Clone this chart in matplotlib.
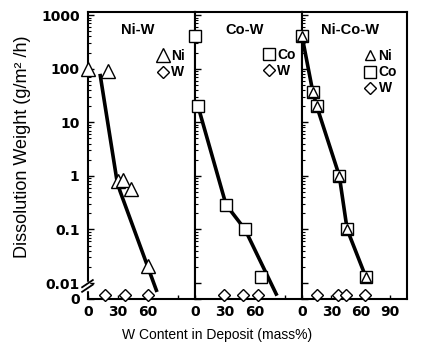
import matplotlib
matplotlib.use("Agg")
import matplotlib.pyplot as plt
from matplotlib.ticker import FixedLocator, NullFormatter
from matplotlib.lines import Line2D

# values (x: W content mass%, y: g/m2/h)
ZERO = 0.006          # where the "0" points sit on the broken log axis

niw_ni_x = [0, 20, 30, 35, 43, 60]
niw_ni_y = [100, 92, 0.8, 0.85, 0.57, 0.021]
niw_w_x = [17, 37, 60]
niw_line_x = [12, 29, 32, 69]
niw_line_y = [80, 0.8, 0.52, 0.0068]

cow_co_x = [0, 3, 31, 50, 66]
cow_co_y = [406, 20, 0.29, 0.1, 0.013]
cow_w_x = [29, 48, 63]
cow_line_x = [3, 31, 50, 82]
cow_line_y = [20, 0.29, 0.1, 0.0058]

nicow_x = [0, 11, 15, 38, 46, 65]
nicow_ni_y = [406, 37, 20, 1.0, 0.1, 0.013]
nicow_co_y = [406, 37, 20, 1.0, 0.1, 0.013]
nicow_w_x = [15, 37, 45, 64]
nicow_line_x = [0, 11, 15, 38, 46, 65]
nicow_line_y = [406, 37, 20, 1.0, 0.1, 0.013]

titles = ["Ni-W", "Co-W", "Ni-Co-W"]
ytick_vals = [0.00503, 0.01, 0.1, 1, 10, 100, 1000]
ytick_labels = ["0", "0.01", "0.1", "1", "10", "100", "1000"]

plt.rcParams['font.family'] = ['Liberation Sans', 'DejaVu Sans']

fig = plt.figure(figsize=(4.22, 3.49), dpi=100)
W, H = 422, 349
bot, top = 299, 12
edges = [88, 195, 302, 407]
axes = []
for i in range(3):
    ax = fig.add_axes([edges[i] / W, 1 - bot / H, (edges[i + 1] - edges[i]) / W, (bot - top) / H])
    axes.append(ax)

tick_font = dict(family='DejaVu Sans', weight='bold', size=10)
mk = dict(mfc='white', mec='black', mew=1.0, ls='none', clip_on=False, zorder=5)
line_kw = dict(color='black', lw=2.6, zorder=3, solid_capstyle='butt')

# Ni-W
ax = axes[0]
ax.plot(niw_line_x, niw_line_y, **line_kw)
ax.plot(niw_ni_x, niw_ni_y, marker='^', ms=9.5, label='Ni', **mk)
ax.plot(niw_w_x, [ZERO] * len(niw_w_x), marker='D', ms=6.2, label='W', **mk)

# Co-W
ax = axes[1]
ax.plot(cow_line_x, cow_line_y, **line_kw)
ax.plot(cow_co_x, cow_co_y, marker='s', ms=8.8, label='Co', **mk)
ax.plot(cow_w_x, [ZERO] * len(cow_w_x), marker='D', ms=6.2, label='W', **mk)

# Ni-Co-W
ax = axes[2]
ax.plot(nicow_line_x, nicow_line_y, **line_kw)
ax.plot(nicow_x, nicow_co_y, marker='s', ms=8.8, label='Co', **mk)
ax.plot(nicow_x, nicow_ni_y, marker='^', ms=7.5, label='Ni', **mk)
ax.plot(nicow_w_x, [ZERO] * len(nicow_w_x), marker='D', ms=6.2, label='W', **mk)

minor = [m * 10.0 ** e for e in range(-2, 3) for m in range(2, 10)]
for i, ax in enumerate(axes):
    ax.set_yscale('log')
    ax.set_ylim(0.00503, 1140)
    ax.set_xlim(0, 107)
    for s in ax.spines.values():
        s.set_linewidth(1.5)
    ax.yaxis.set_major_locator(FixedLocator(ytick_vals))
    ax.yaxis.set_minor_locator(FixedLocator(minor))
    ax.yaxis.set_minor_formatter(NullFormatter())
    ax.tick_params(axis='y', which='major', direction='in', length=4, width=1.0,
                   left=True, right=False, pad=6)
    ax.tick_params(axis='y', which='minor', direction='in', length=2.2, width=0.8,
                   left=True, right=False)
    if i == 0:
        ax.set_yticklabels(ytick_labels, fontdict=tick_font)
    else:
        ax.set_yticklabels([])
    ax.set_xticks([0, 30, 60, 90])
    xl = ['0', '30', '60', '90'] if i == 2 else ['0', '30', '60', '']
    ax.set_xticklabels(xl, fontdict=tick_font)
    ax.tick_params(axis='x', direction='in', length=3, width=1.0, pad=4)
    ax.text(0.46, 0.937, titles[i], transform=ax.transAxes, ha='center', va='center',
            fontsize=10.5, fontweight='bold')

leg_kw = dict(frameon=False, handlelength=0.9, handletextpad=0.15, labelspacing=0.15,
              borderpad=0, borderaxespad=0, prop=dict(weight='bold', size=10))
h0, l0 = axes[0].get_legend_handles_labels()
axes[0].legend(h0, l0, loc='upper left', bbox_to_anchor=(0.64, 0.87), **leg_kw)
h1, l1 = axes[1].get_legend_handles_labels()
axes[1].legend(h1, l1, loc='upper left', bbox_to_anchor=(0.63, 0.875), **leg_kw)
h2, l2 = axes[2].get_legend_handles_labels()
order = [1, 0, 2]
axes[2].legend([h2[k] for k in order], [l2[k] for k in order], loc='upper left',
               bbox_to_anchor=(0.59, 0.87), **leg_kw)

# axis break marks on the left spine
ax = axes[0]
ax.add_line(Line2D([0, 0], [0.035, 0.055], transform=ax.transAxes, color='white',
                   lw=2.5, clip_on=False, zorder=6))
for dy in (0.0, 0.016):
    ax.add_line(Line2D([-0.055, 0.045], [0.025 + dy, 0.05 + dy], transform=ax.transAxes,
                       color='black', lw=1.3, clip_on=False, zorder=7))

fig.text(217 / W, 1 - 335 / H, 'W Content in Deposit (mass%)', ha='center', va='center',
         fontsize=10)
fig.text(23 / W, 1 - 147 / H, 'Dissolution Weight (g/m\u00b2 /h)', ha='center', va='center',
         rotation=90, fontsize=13)

fig.savefig('out.png', dpi=100)
